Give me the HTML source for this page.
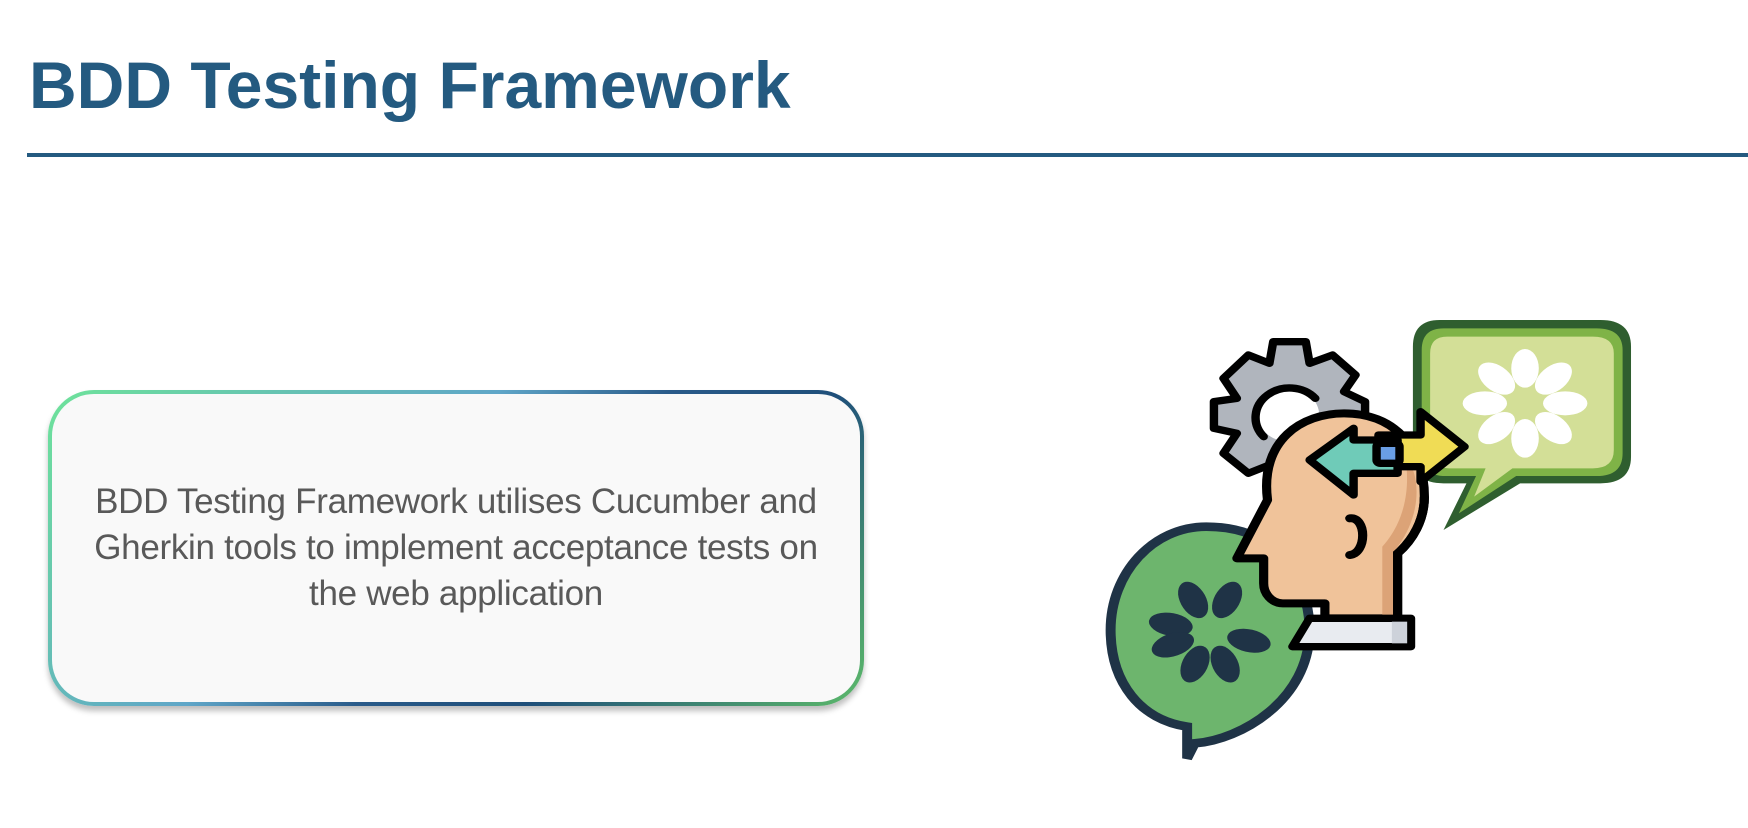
<!DOCTYPE html>
<html><head><meta charset="utf-8"><style>
html,body{margin:0;padding:0;background:#fff;}
body{width:1748px;height:828px;position:relative;overflow:hidden;font-family:"Liberation Sans",sans-serif;}
.title{position:absolute;left:29px;top:47px;font-size:66px;font-weight:bold;color:#245a80;letter-spacing:0;white-space:nowrap;}
.rule{position:absolute;left:27px;top:153px;width:1721px;height:4px;background:#245a80;}
.box{position:absolute;left:48px;top:390px;width:816px;height:316px;border-radius:46px;padding:4px;box-sizing:border-box;
background:linear-gradient(135deg,#6ee39a 0%,#5fa6c8 40%,#2a5b8a 55%,#1f4f7a 70%,#5cba6a 100%);box-shadow:0 5px 6px rgba(0,0,0,.25);}
.inner{width:100%;height:100%;border-radius:42px;background:#f9f9f9;display:flex;align-items:center;justify-content:center;text-align:center;
font-size:35px;line-height:46px;color:#595959;letter-spacing:-0.3px;}
svg{position:absolute;left:1080px;top:300px;}
</style></head><body>
<div class="title">BDD Testing Framework</div>
<div class="rule"></div>
<div class="box"><div class="inner">BDD Testing Framework utilises Cucumber and<br>Gherkin tools to implement acceptance tests on<br>the web application</div></div>
<svg width="600" height="480" viewBox="0 0 1568 1440" preserveAspectRatio="none">
<path d="M940 60 H1360 Q1440 60 1440 140 V470 Q1440 550 1360 550 H1150 L950 690 L1010 550 H950 Q870 550 870 470 V140 Q870 60 940 60Z" fill="#2f5e2f"/>
<path d="M950 85 H1350 Q1418 85 1418 150 V460 Q1418 528 1350 528 H1140 L990 640 L1035 528 H955 Q893 528 893 460 V150 Q893 85 950 85Z" fill="#7fb347"/>
<path d="M960 110 H1340 Q1395 110 1395 160 V450 Q1395 505 1340 505 H1130 L1030 590 L1060 505 H965 Q915 505 915 450 V160 Q915 110 960 110Z" fill="#d3df97"/>
<g fill="#fff" transform="translate(1163,310)">
<ellipse cx="0" cy="-105" rx="36" ry="58" transform="rotate(0)"/>
<ellipse cx="0" cy="-105" rx="36" ry="58" transform="rotate(45)"/>
<ellipse cx="0" cy="-105" rx="36" ry="58" transform="rotate(90)"/>
<ellipse cx="0" cy="-105" rx="36" ry="58" transform="rotate(135)"/>
<ellipse cx="0" cy="-105" rx="36" ry="58" transform="rotate(180)"/>
<ellipse cx="0" cy="-105" rx="36" ry="58" transform="rotate(225)"/>
<ellipse cx="0" cy="-105" rx="36" ry="58" transform="rotate(270)"/>
<ellipse cx="0" cy="-105" rx="36" ry="58" transform="rotate(315)"/>
</g>
<path d="M330 680 C560 680 600 900 600 990 C600 1200 420 1320 300 1330 L280 1375 L280 1280 C160 1260 80 1150 80 990 C80 820 190 680 330 680Z" fill="#6db56d" stroke="#1f3346" stroke-width="26"/>
<g fill="#1f3346" transform="translate(340,995)">
<ellipse cx="0" cy="-105" rx="34" ry="58" transform="rotate(-25)"/>
<ellipse cx="0" cy="-105" rx="34" ry="58" transform="rotate(25)"/>
<ellipse cx="0" cy="-105" rx="34" ry="58" transform="rotate(-78)"/>
<ellipse cx="0" cy="-105" rx="34" ry="58" transform="rotate(-112)"/>
<ellipse cx="0" cy="-105" rx="34" ry="58" transform="rotate(105)"/>
<ellipse cx="0" cy="-105" rx="34" ry="58" transform="rotate(158)"/>
<ellipse cx="0" cy="-105" rx="34" ry="58" transform="rotate(202)"/>
</g>
<path d="M505 125 H590 L600 190 L660 165 L720 225 L690 275 L745 305 V375 L690 400 L720 460 L660 520 L600 495 L590 560 H505 L495 495 L440 520 L375 460 L410 400 L350 385 V305 L410 295 L375 235 L440 165 L495 190 Z" fill="#b0b5bd" stroke="#000" stroke-width="22" stroke-linejoin="round"/>
<ellipse cx="545" cy="345" rx="80" ry="80" fill="#fff"/>
<path d="M480 410 A80 80 0 1 1 615 295" fill="none" stroke="#000" stroke-width="22" stroke-linecap="round"/>
<path d="M490 600 C470 420 580 340 690 340 C820 340 900 440 900 590 C900 660 870 720 830 760 V955 H640 V910 H530 C500 910 480 880 480 850 V775 H410 Z" fill="#f0c39a" stroke="#000" stroke-width="24" stroke-linejoin="round"/>
<path d="M850 470 C890 520 895 640 830 740 V950 H790 V740 C860 650 860 540 850 470Z" fill="#dca377"/>
<path d="M900 590 C900 660 870 720 830 760 V955" fill="none" stroke="#000" stroke-width="24"/>
<path d="M705 655 C750 650 750 760 705 765" fill="none" stroke="#000" stroke-width="24" stroke-linecap="round"/>
<path d="M600 955 H865 V1040 H555 Z" fill="#e8ebf0" stroke="#000" stroke-width="22" stroke-linejoin="round"/>
<rect x="815" y="965" width="40" height="65" fill="#cdd2da"/>
<path d="M1005 440 L890 335 V405 H780 V500 H890 V545 Z" fill="#f0dc55" stroke="#000" stroke-width="22" stroke-linejoin="round"/>
<path d="M600 480 L715 385 V420 H830 V520 H715 V585 Z" fill="#6fcbb8" stroke="#000" stroke-width="22" stroke-linejoin="round"/>
<rect x="775" y="430" width="60" height="60" rx="10" fill="#6a9ee6" stroke="#000" stroke-width="22"/>
</svg>
</body></html>
